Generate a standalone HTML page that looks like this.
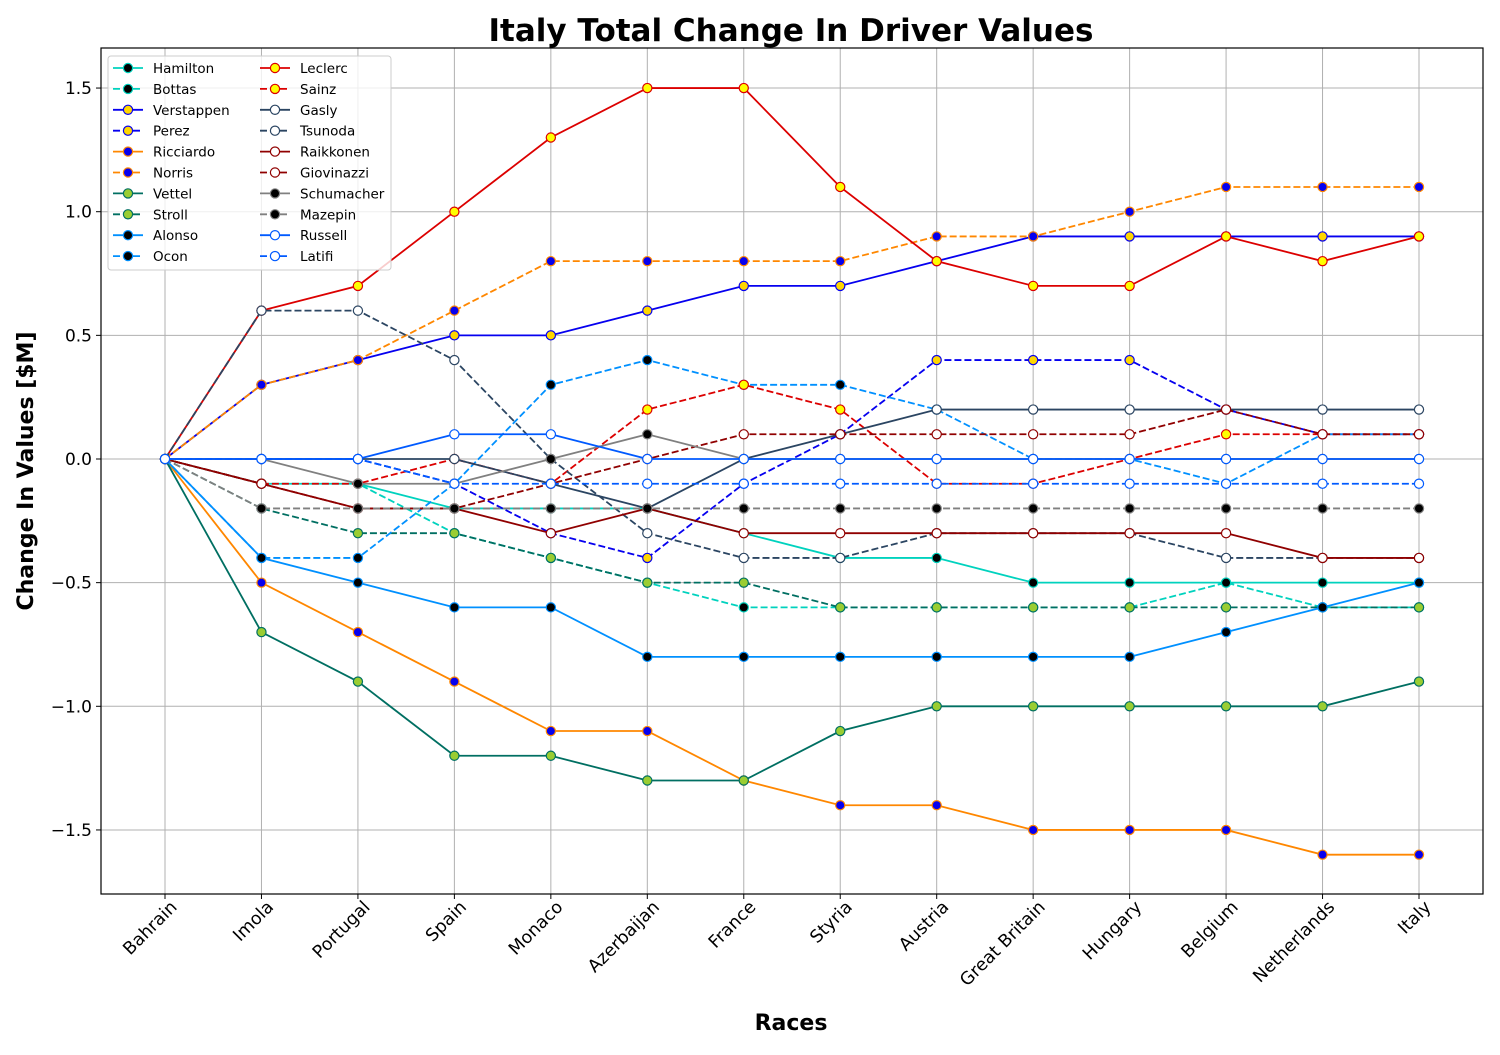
<!DOCTYPE html>
<html><head><meta charset="utf-8"><style>
body{margin:0;background:#fff;font-family:"Liberation Sans","DejaVu Sans",sans-serif}
svg text{font-family:"DejaVu Sans","Liberation Sans",sans-serif}
</style></head><body>
<svg id="chart" width="1500" height="1050" xmlns="http://www.w3.org/2000/svg">
<rect width="1500" height="1050" fill="#fff"/>
<text x="791" y="41" text-anchor="middle" font-size="31" font-weight="bold">Italy Total Change In Driver Values</text>
<text x="791" y="1030" text-anchor="middle" font-size="22" font-weight="bold">Races</text>
<text transform="translate(33,471) rotate(-90)" text-anchor="middle" font-size="22" font-weight="bold">Change In Values [$M]</text>
<g id="grid"></g><g id="series"></g>
<rect x="101" y="48" width="1382" height="846" fill="none" stroke="#000" stroke-width="1.2"/>
<g id="ticks"></g><g id="legend"></g>
</svg>
<script>
const races=["Bahrain","Imola","Portugal","Spain","Monaco","Azerbaijan","France","Styria","Austria","Great Britain","Hungary","Belgium","Netherlands","Italy"];
const yTicks=[-1.5,-1.0,-0.5,0.0,0.5,1.0,1.5];
const names=["Hamilton","Bottas","Verstappen","Perez","Ricciardo","Norris","Vettel","Stroll","Alonso","Ocon","Leclerc","Sainz","Gasly","Tsunoda","Raikkonen","Giovinazzi","Schumacher","Mazepin","Russell","Latifi"];
const hamilton=[0,-0.1,-0.1,-0.2,-0.2,-0.2,-0.3,-0.4,-0.4,-0.5,-0.5,-0.5,-0.5,-0.5];
const bottas=[0,-0.1,-0.1,-0.3,-0.4,-0.5,-0.6,-0.6,-0.6,-0.6,-0.6,-0.5,-0.6,-0.6];
const verstappen=[0,0.3,0.4,0.5,0.5,0.6,0.7,0.7,0.8,0.9,0.9,0.9,0.9,0.9];
const perez=[0,0,0,-0.1,-0.3,-0.4,-0.1,0.1,0.4,0.4,0.4,0.2,0.1,0.1];
const ricciardo=[0,-0.5,-0.7,-0.9,-1.1,-1.1,-1.3,-1.4,-1.4,-1.5,-1.5,-1.5,-1.6,-1.6];
const norris=[0,0.3,0.4,0.6,0.8,0.8,0.8,0.8,0.9,0.9,1.0,1.1,1.1,1.1];
const vettel=[0,-0.7,-0.9,-1.2,-1.2,-1.3,-1.3,-1.1,-1.0,-1.0,-1.0,-1.0,-1.0,-0.9];
const stroll=[0,-0.2,-0.3,-0.3,-0.4,-0.5,-0.5,-0.6,-0.6,-0.6,-0.6,-0.6,-0.6,-0.6];
const alonso=[0,-0.4,-0.5,-0.6,-0.6,-0.8,-0.8,-0.8,-0.8,-0.8,-0.8,-0.7,-0.6,-0.5];
const ocon=[0,-0.4,-0.4,-0.1,0.3,0.4,0.3,0.3,0.2,0.0,0.0,-0.1,0.1,0.1];
const leclerc=[0,0.6,0.7,1.0,1.3,1.5,1.5,1.1,0.8,0.7,0.7,0.9,0.8,0.9];
const sainz=[0,-0.1,-0.1,0.0,-0.1,0.2,0.3,0.2,-0.1,-0.1,0.0,0.1,0.1,0.1];
const gasly=[0,0,0,0,-0.1,-0.2,0,0.1,0.2,0.2,0.2,0.2,0.2,0.2];
const tsunoda=[0,0.6,0.6,0.4,0.0,-0.3,-0.4,-0.4,-0.3,-0.3,-0.3,-0.4,-0.4,-0.4];
const raikkonen=[0,-0.1,-0.2,-0.2,-0.3,-0.2,-0.3,-0.3,-0.3,-0.3,-0.3,-0.3,-0.4,-0.4];
const giovinazzi=[0,-0.1,-0.2,-0.2,-0.1,0.0,0.1,0.1,0.1,0.1,0.1,0.2,0.1,0.1];
const schumacher=[0,0,-0.1,-0.1,0,0.1,0,0,0,0,0,0,0,0];
const mazepin=[0,-0.2,-0.2,-0.2,-0.2,-0.2,-0.2,-0.2,-0.2,-0.2,-0.2,-0.2,-0.2,-0.2];
const russell=[0,0,0,0.1,0.1,0,0,0,0,0,0,0,0,0];
const latifi=[0,0,0,-0.1,-0.1,-0.1,-0.1,-0.1,-0.1,-0.1,-0.1,-0.1,-0.1,-0.1];
const values=[hamilton,bottas,verstappen,perez,ricciardo,norris,vettel,stroll,alonso,ocon,leclerc,sainz,gasly,tsunoda,raikkonen,giovinazzi,schumacher,mazepin,russell,latifi];

const styles=[["#00d2be","#000"],["#0600ef","#ffd700"],["#ff8700","#0600ef"],["#006f62","#9acd32"],["#0090ff","#000"],["#dc0000","#ffff00"],["#2b4562","#fff"],["#900000","#fff"],["#808080","#000"],["#005aff","#fff"]];
const NS="http://www.w3.org/2000/svg";
const x0=101,x1=1483;
function xs(i){return 165+i*(1419-165)/(races.length-1);}
function ys(v){return 459-v*247.3;}
function mk(tag,attrs,parent){const e=document.createElementNS(NS,tag);for(const k in attrs)e.setAttribute(k,attrs[k]);parent.appendChild(e);return e;}
const grid=document.getElementById('grid'),ticks=document.getElementById('ticks'),ser=document.getElementById('series'),leg=document.getElementById('legend');
races.forEach((r,i)=>{
  const g=mk('line',{x1:xs(i),x2:xs(i),y1:48,y2:894,stroke:'#b0b0b0','stroke-width':1},grid);
  
  
  mk('line',{x1:xs(i),x2:xs(i),y1:894,y2:899,stroke:'#000'},ticks);
  const ax=xs(i)+13,ay=908;
  const t=mk('text',{x:ax,y:ay,'text-anchor':'end','font-size':17.5,transform:`rotate(-45 ${ax} ${ay})`},ticks);
  t.textContent=r;
  
  
});
yTicks.forEach(v=>{
  const g=mk('line',{x1:x0,x2:x1,y1:ys(v),y2:ys(v),stroke:'#b0b0b0','stroke-width':1},grid);
  
  
  mk('line',{x1:96,x2:101,y1:ys(v),y2:ys(v),stroke:'#000'},ticks);
  const t=mk('text',{x:92,y:ys(v)+6,'text-anchor':'end','font-size':17},ticks);
  t.textContent=(v<0?'\u2212':'')+Math.abs(v).toFixed(1);
  
  
});
values.forEach((d,s)=>{
  const [col,face]=styles[Math.floor(s/2)];const dash=s%2===1;
  const g=mk('g',{},ser);
  
  
  const pl=mk('polyline',{points:d.map((v,i)=>xs(i)+','+ys(v)).join(' '),fill:'none',stroke:col,'stroke-width':1.8,'stroke-dasharray':dash?'7,3':'none'},g);
  
  
  d.forEach((v,i)=>{
    const c=mk('circle',{cx:xs(i),cy:ys(v),r:4.6,fill:face,stroke:col,'stroke-width':1.2},g);
    
    
  });
});
const lb=mk('rect',{x:108,y:56,width:283,height:214,rx:3,fill:'#fff','fill-opacity':0.8,stroke:'#ccc'},leg);


names.forEach((n,s)=>{
  const [col,face]=styles[Math.floor(s/2)];const dash=s%2===1;
  const c=Math.floor(s/10),r=s%10;const lx=c?260:113,ly=68+r*20.9;
  const g=mk('g',{},leg);
  
  
  mk('line',{x1:lx,x2:lx+30,y1:ly,y2:ly,stroke:col,'stroke-width':1.8,'stroke-dasharray':dash?'7,3':'none'},g);
  mk('circle',{cx:lx+15,cy:ly,r:4.6,fill:face,stroke:col,'stroke-width':1.2},g);
  const t=mk('text',{x:lx+40,y:ly+5,'font-size':13.5},g);t.textContent=n;
});
</script>
</body></html>
